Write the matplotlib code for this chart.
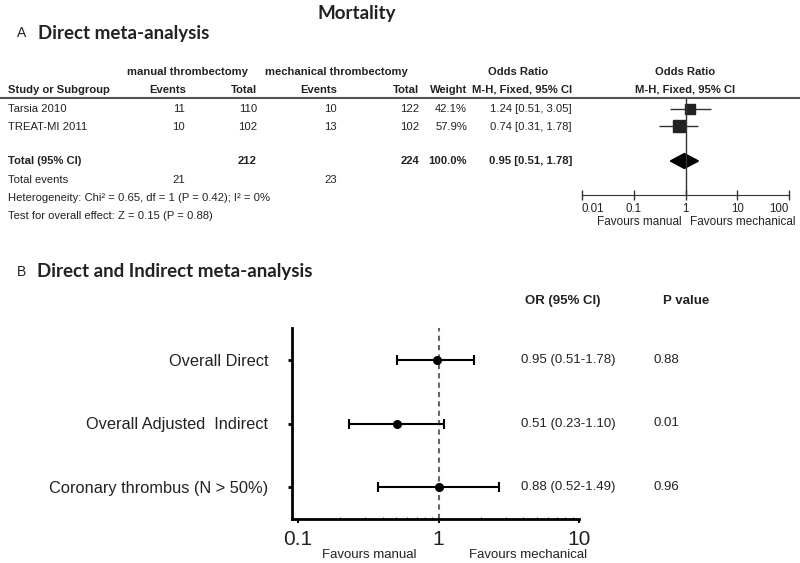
import numpy as np
import matplotlib.pyplot as plt

# ---- panel A data ----
studies = ["Tarsia 2010", "TREAT-MI 2011"]
man_events = [11, 10]
man_total = [110, 102]
mech_events = [10, 13]
mech_total = [122, 102]
weights = ["42.1%", "57.9%"]
or_a = [1.24, 0.74]
lo_a = [0.51, 0.31]
hi_a = [3.05, 1.78]
sq_size = [8, 10]
pooled = (0.95, 0.51, 1.78)
a_ticks = [0.01, 0.1, 1, 10, 100]
a_ticklabels = ["0.01", "0.1", "1", "10", "100"]

# ---- panel B data ----
b_labels = ["Overall Direct", "Overall Adjusted  Indirect", "Coronary thrombus (N > 50%)"]
b_or = [0.97, 0.51, 1.0]
b_lo = [0.51, 0.23, 0.37]
b_hi = [1.78, 1.10, 2.68]
b_ortext = ["0.95 (0.51-1.78)", "0.51 (0.23-1.10)", "0.88 (0.52-1.49)"]
b_pval = ["0.88", "0.01", "0.96"]

W, H = 800, 563
fig = plt.figure(figsize=(8, 5.63), dpi=100)
NARROW = ["Liberation Sans Narrow", "Liberation Sans", "DejaVu Sans"]
HEAD = ["Lato", "Open Sans", "DejaVu Sans"]
ARIAL = ["Liberation Sans", "DejaVu Sans"]
TS = 8.1  # table font size


def T(x, y, s, size=TS, ha="left", weight="normal", family=NARROW, color="#222222"):
    fig.text(x / W, 1 - y / H, s, ha=ha, va="center", fontsize=size,
             fontweight=weight, family=family, color=color)


T(357, 13, "Mortality", size=13.5, ha="center", weight="bold", family=HEAD)
T(17, 33, "A", size=10, family=ARIAL)
T(38, 33, "Direct meta-analysis", size=13.5, weight="bold", family=HEAD)

# table header
T(187, 72, "manual thrombectomy", ha="center", weight="bold")
T(336, 72, "mechanical thrombectomy", ha="center", weight="bold")
T(518, 72, "Odds Ratio", ha="center", weight="bold")
T(685, 72, "Odds Ratio", ha="center", weight="bold")
T(8, 90, "Study or Subgroup", weight="bold")
T(186, 90, "Events", ha="right", weight="bold")
T(257, 90, "Total", ha="right", weight="bold")
T(337, 90, "Events", ha="right", weight="bold")
T(419, 90, "Total", ha="right", weight="bold")
T(467, 90, "Weight", ha="right", weight="bold")
T(572, 90, "M-H, Fixed, 95% CI", ha="right", weight="bold")
T(685, 90, "M-H, Fixed, 95% CI", ha="center", weight="bold")
fig.add_artist(plt.Line2D([0, 1], [1 - 98 / H, 1 - 98 / H], color="#555555", lw=1.5))

row_y = [109, 127]
for i, s in enumerate(studies):
    y = row_y[i]
    T(8, y, s)
    T(185, y, str(man_events[i]), ha="right")
    T(257, y, str(man_total[i]), ha="right")
    T(337, y, str(mech_events[i]), ha="right")
    T(419, y, str(mech_total[i]), ha="right")
    T(467, y, weights[i], ha="right")
    T(572, y, "%.2f [%.2f, %.2f]" % (or_a[i], lo_a[i], hi_a[i]), ha="right")

T(8, 161, "Total (95% CI)", weight="bold")
T(257, 161, str(sum(man_total)), ha="right", weight="bold")
T(419, 161, str(sum(mech_total)), ha="right", weight="bold")
T(467, 161, "100.0%", ha="right", weight="bold")
T(572, 161, "%.2f [%.2f, %.2f]" % pooled, ha="right", weight="bold")
T(8, 180, "Total events")
T(185, 180, str(sum(man_events)), ha="right")
T(337, 180, str(sum(mech_events)), ha="right")
T(8, 198, "Heterogeneity: Chi\u00b2 = 0.65, df = 1 (P = 0.42); I\u00b2 = 0%")
T(8, 216, "Test for overall effect: Z = 0.15 (P = 0.88)")

# panel A forest
ax1 = fig.add_axes([582 / W, 1 - 195 / H, (789 - 582) / W, (195 - 98) / H])
ax1.set_xscale("log")
ax1.set_xlim(0.01, 100)
step = 17.33
ax1.set_ylim((195 - 109) / step, -11 / step)
ypos = [0, 1]
ax1.hlines(ypos, lo_a, hi_a, color="#333333", lw=1)
for i in range(2):
    ax1.plot(or_a[i], ypos[i], marker="s", ms=sq_size[i] * 0.85, color="#222222", mec="#222222")
ytot = (161 - 109) / step
est, lo, hi = pooled
ax1.fill([lo, est, hi, est], [ytot, ytot - 0.43, ytot, ytot + 0.43], color="black")
ax1.axvline(1, color="#333333", lw=1)
for s in ["top", "left", "right"]:
    ax1.spines[s].set_visible(False)
ax1.spines["bottom"].set_color("#333333")
ax1.set_yticks([])
ax1.set_xticks(a_ticks)
ax1.set_xticklabels(a_ticklabels, family=NARROW, fontsize=8.3, color="#222222")
labs = ax1.get_xticklabels()
labs[0].set_ha("left")
labs[-1].set_ha("right")
ax1.minorticks_off()
ax1.tick_params(axis="x", direction="inout", length=7, width=1, color="#333333", pad=2)
ax1.patch.set_alpha(0)
T(639, 222, "Favours manual", ha="center", size=8.5)
T(743, 222, "Favours mechanical", ha="center", size=8.5)

# panel B
T(17, 272, "B", size=10, family=ARIAL)
T(37, 272, "Direct and Indirect meta-analysis", size=13.5, weight="bold", family=HEAD)
T(563, 301, "OR (95% CI)", ha="center", size=9.5, weight="bold", family=ARIAL)
T(686, 301, "P value", ha="center", size=9.5, weight="bold", family=ARIAL)

ax2 = fig.add_axes([292 / W, 1 - 519 / H, (579 - 292) / W, (519 - 328) / H])
ax2.set_xscale("log")
ax2.set_xlim(0.0906, 10)
ax2.set_ylim(2.5, -0.5)
yb = np.arange(len(b_labels))
ax2.errorbar(b_or, yb, xerr=[np.array(b_or) - np.array(b_lo), np.array(b_hi) - np.array(b_or)],
             fmt="o", color="black", ms=5.5, lw=1.5, capsize=3.5, capthick=1.5)
ax2.axvline(1, color="#666666", lw=1.5, ls=(0, (2.5, 2)), zorder=0)
for s in ["top", "right"]:
    ax2.spines[s].set_visible(False)
ax2.spines["left"].set_linewidth(2)
ax2.spines["bottom"].set_linewidth(2)
ax2.set_yticks(yb)
ax2.set_yticklabels(b_labels, family=ARIAL, fontsize=11.8, color="#222222")
ax2.tick_params(axis="y", length=3, width=2, pad=14)
ax2.set_xticks([0.1, 1, 10])
ax2.set_xticklabels(["0.1", "1", "10"], family=ARIAL, fontsize=15, color="#222222")
ax2.set_xticks([v * d for d in [0.1, 1] for v in range(2, 10)], minor=True)
ax2.tick_params(axis="x", which="major", length=3, width=1.5, pad=5)
ax2.tick_params(axis="x", which="minor", direction="in", length=1.8, width=0.8, color="#555555")
ax2.patch.set_alpha(0)
T(369, 555, "Favours manual", ha="center", size=9.5, family=ARIAL)
T(528, 555, "Favours mechanical", ha="center", size=9.5, family=ARIAL)

for i in range(len(b_labels)):
    y = 360 + i * 63.5
    T(521, y, b_ortext[i], size=9.5, family=ARIAL)
    T(654, y, b_pval[i], size=9.5, family=ARIAL)

fig.savefig("out.png", dpi=100)
